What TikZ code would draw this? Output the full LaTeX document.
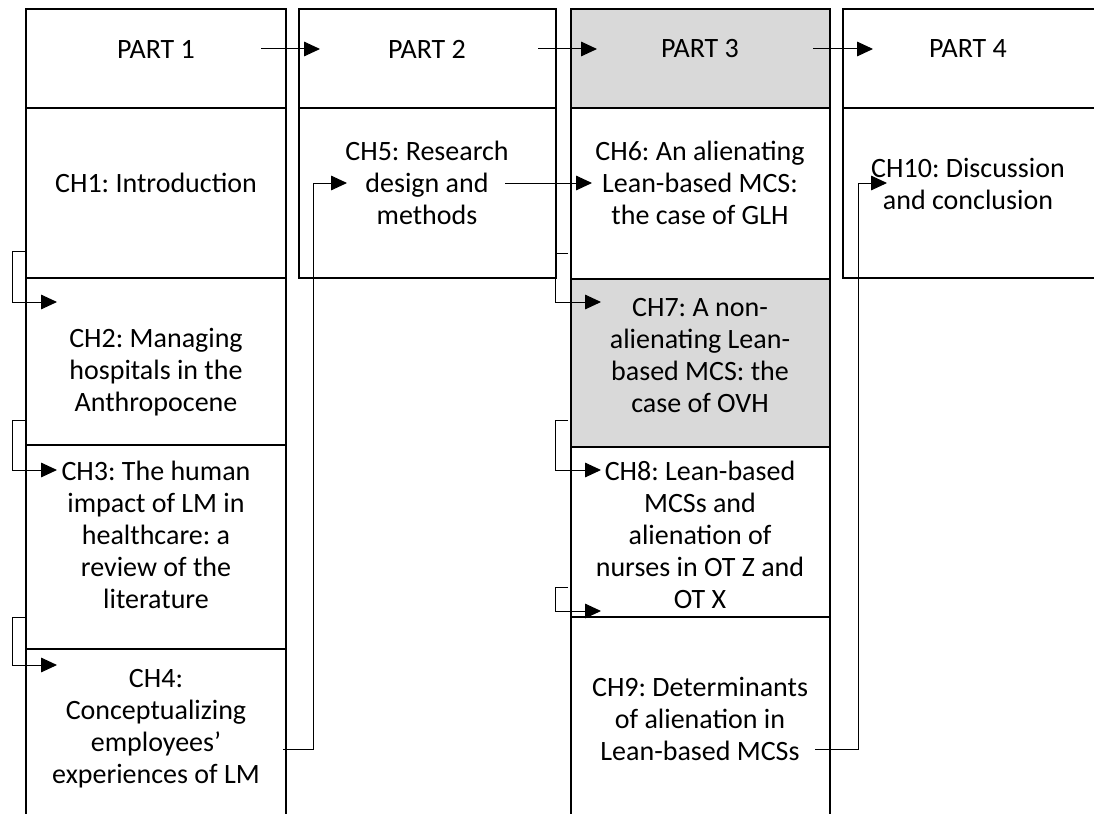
\documentclass[tikz,border=0pt]{standalone}
\usepackage{fontspec}
\setmainfont{Carlito}
\usetikzlibrary{arrows.meta,fit,calc}
\definecolor{boxgrey}{HTML}{D9D9D9}
\frenchspacing
\begin{document}
\begin{tikzpicture}[x=0.75pt,y=-0.75pt,
  box/.style={draw=black,line width=1.5pt,inner sep=0pt},
  grey/.style={fill=boxgrey},
  lbl/.style={align=center,font=\fontsize{21}{24}\selectfont,inner sep=0pt},
  conn/.style={line width=0.75pt,-{Triangle[length=12pt,width=11pt]}}]
\useasboundingbox (0,0) rectangle (1094,813);
% column 1
\node[box,fit={(26,9)(286,108)}] (p1) {};
\node[box,fit={(26,108)(286,278)}] (ch1) {};
\node[box,fit={(26,278)(286,445)}] (ch2) {};
\node[box,fit={(26,445)(286,649)}] (ch3) {};
\node[box,fit={(26,649)(286,830)}] (ch4) {};
% column 2
\node[box,fit={(299,9)(556,108)}] (p2) {};
\node[box,fit={(299,108)(556,278)}] (ch5) {};
% column 3
\node[box,grey,fit={(571,9)(830,108)}] (p3) {};
\node[box,fit={(571,108)(830,279)}] (ch6) {};
\node[box,grey,fit={(571,279)(830,447)}] (ch7) {};
\node[box,fit={(571,447)(830,617)}] (ch8) {};
\node[box,fit={(571,617)(830,830)}] (ch9) {};
% column 4
\node[box,fit={(843,9)(1100,108)}] (p4) {};
\node[box,fit={(843,108)(1100,278)}] (ch10) {};
% labels
\node[lbl] (t1) at (156,49) {PART 1};
\node[lbl] (t2) at (427,49) {PART 2};
\node[lbl] (t3) at (700,49) {PART 3};
\node[lbl] (t4) at (968,49) {PART 4};
\node[lbl] (tc1) at (156,183) {CH1: Introduction};
\node[lbl] (tc2) at (156,372) {CH2: Managing\\hospitals in the\\Anthropocene};
\node[lbl] (tc3) at (156,535) {CH3: The human\\impact of LM in\\healthcare: a\\review of the\\literature};
\node[lbl] (tc4) at (156,729) {CH4:\\Conceptualizing\\employees’\\experiences of LM};
\node[lbl] (tc5) at (427,183) {CH5: Research\\design and\\methods};
\node[lbl] (tc6) at (700,183) {CH6: An alienating\\Lean-based MCS:\\the case of GLH};
\node[lbl] (tc7) at (700,356) {CH7: A non-\\alienating Lean-\\based MCS: the\\case of OVH};
\node[lbl] (tc8) at (700,535) {CH8: Lean-based\\MCSs and\\alienation of\\nurses in OT Z and\\OT X};
\node[lbl] (tc9) at (700,719) {CH9: Determinants\\of alienation in\\Lean-based MCSs};
\node[lbl] (tc10) at (968,184) {CH10: Discussion\\and conclusion};
% connector ends
\coordinate (a1) at (261,49);   \coordinate (b1) at (320,49);
\coordinate (a2) at (538,49);   \coordinate (b2) at (597,49);
\coordinate (a3) at (813,49);   \coordinate (b3) at (873,49);
\coordinate (a4) at (26,251);   \coordinate (b4) at (57,302);
\coordinate (a5) at (26,420);   \coordinate (b5) at (57,470);
\coordinate (a6) at (26,617);   \coordinate (b6) at (57,665);
\coordinate (a7) at (283,749);  \coordinate (b7) at (347,183);
\coordinate (a8) at (505,183);  \coordinate (b8) at (592,183);
\coordinate (a9) at (568,253);  \coordinate (b9) at (601,302);
\coordinate (a10) at (568,420); \coordinate (b10) at (601,470);
\coordinate (a11) at (568,587); \coordinate (b11) at (601,611);
\coordinate (a12) at (815,749); \coordinate (b12) at (887,183);
% connectors
\draw[conn] (a1) -- (b1);
\draw[conn] (a2) -- (b2);
\draw[conn] (a3) -- (b3);
\draw[conn] (a4) -- (12,251) |- (b4);
\draw[conn] (a5) -- (12,420) |- (b5);
\draw[conn] (a6) -- (12,617) |- (b6);
\draw[conn] (a7) -- (313,749) |- (b7);
\draw[conn] (a8) -- (b8);
\draw[conn] (a9) -- (555,253) |- (b9);
\draw[conn] (a10) -- (555,420) |- (b10);
\draw[conn] (a11) -- (555,587) |- (b11);
\draw[conn] (a12) -- (858,749) |- (b12);
\end{tikzpicture}
\end{document}
